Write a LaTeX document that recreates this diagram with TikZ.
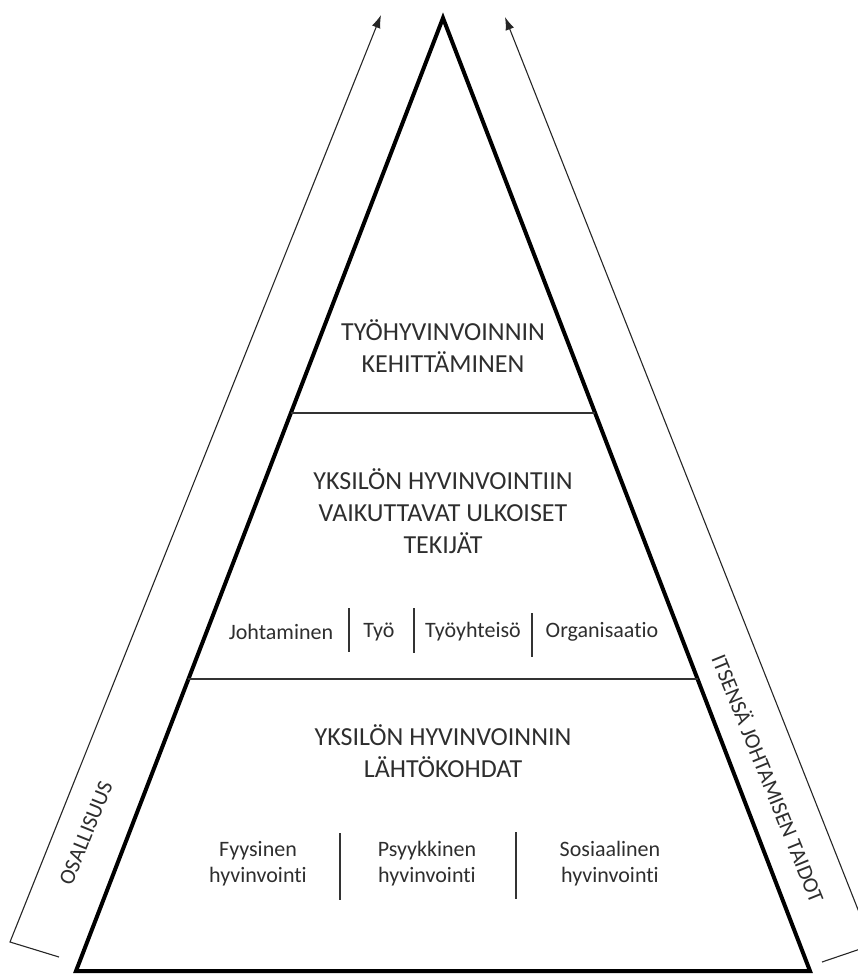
\documentclass[tikz,border=0pt]{standalone}
\usepackage{fontspec}
\setmainfont{Carlito}[Ligatures=NoCommon]
\usetikzlibrary{arrows.meta,calc}
\tikzset{
  heading/.style={align=center, inner sep=0pt, text=black!82,
    font=\fontsize{26}{32}\selectfont},
  factor/.style={align=center, inner sep=0pt, text=black!82,
    font=\fontsize{22}{26}\selectfont},
  divider/.style={line width=1.3pt, black!80},
  flow/.style={line width=1.1pt, black!85},
}

\begin{document}
\begin{tikzpicture}[x=1pt,y=-1pt,>={Latex[length=13pt,width=9pt]}]
    \useasboundingbox (0,0) rectangle (857,976);
    % pyramid
    \coordinate (top) at (443,18);
    \coordinate (bl) at (76,971);
    \coordinate (br) at (810,971);
    \draw [line width=4pt] (top) -- (bl) -- (br) -- cycle;
    \coordinate (l1) at ($(top)!0.4145!(bl)$);
    \coordinate (r1) at ($(top)!0.4145!(br)$);
    \coordinate (l2) at ($(top)!0.6936!(bl)$);
    \coordinate (r2) at ($(top)!0.6936!(br)$);
    \draw [divider] (l1) -- (r1);
    \draw [divider] (l2) -- (r2);
    % levels
    \node [heading] (dev) at (443,346) {TYÖHYVINVOINNIN\\KEHITTÄMINEN};
    \node [heading] (ext) at (443,511) {YKSILÖN HYVINVOINTIIN\\VAIKUTTAVAT ULKOISET\\TEKIJÄT};
    \node [heading] (base) at (443,751) {YKSILÖN HYVINVOINNIN\\LÄHTÖKOHDAT};
    \node [factor] (lead) at (281,632) {Johtaminen};
    \node [factor] (work) at (379,632) {Työ};
    \node [factor] (comm) at (473,632) {Työyhteisö};
    \node [factor] (org) at (602,632) {Organisaatio};
    \node [factor] (phys) at (258,864) {Fyysinen\\hyvinvointi};
    \node [factor] (psy) at (427,864) {Psyykkinen\\hyvinvointi};
    \node [factor] (soc) at (610,864) {Sosiaalinen\\hyvinvointi};
    \foreach \x/\ya/\yb in {349/608/652, 414/608/653, 532/613/657, 340/833/900, 516/832/899}
      \draw [divider] (\x,\ya) -- (\x,\yb);
    % side arrows
    \coordinate (lfoot) at (59,957);
    \coordinate (lcorner) at (10,942);
    \coordinate (ltip) at (381,15);
    \coordinate (rfoot) at (822,962);
    \coordinate (rcorner) at (872,945);
    \coordinate (rtip) at (505,17);
    \draw [flow,->] (lfoot) -- (lcorner) -- (ltip);
    \draw [flow,->] (rfoot) -- (rcorner) -- (rtip);
    \node [factor, rotate=68] (share) at (86,833) {OSALLISUUS};
    \node [factor, rotate=-68] (self) at (769,778) {ITSENSÄ JOHTAMISEN TAIDOT};
\end{tikzpicture}
\end{document}
